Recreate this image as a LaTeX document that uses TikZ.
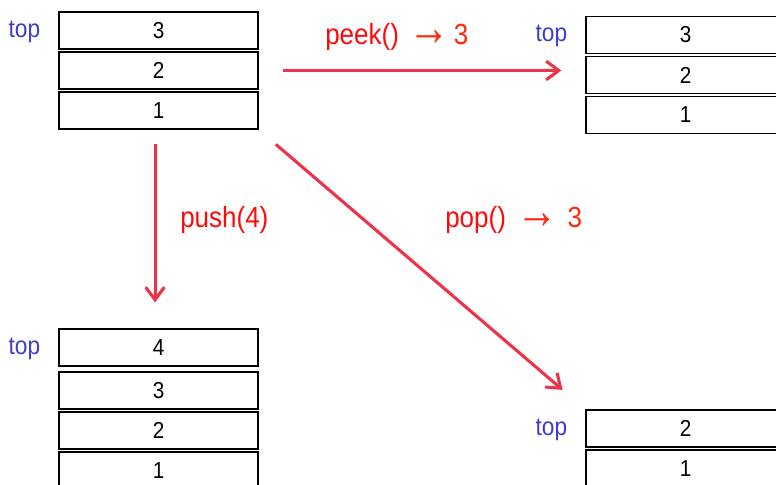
\documentclass[tikz,border=0pt]{standalone}
\usepackage{fontspec}
\setmainfont{Liberation Sans}
\usepackage{tikz}
\usetikzlibrary{positioning,arrows.meta}

\definecolor{arrowred}{RGB}{238,50,72}
\definecolor{opred}{RGB}{255,10,10}
\definecolor{resred}{RGB}{255,40,10}
\definecolor{topblue}{RGB}{60,60,205}
\newcommand{\arrowsym}{\raisebox{-0.5pt}{\scalebox{1.6}[1.8]{→}}}
\newcommand{\tallbox}[1]{\scalebox{1}[1.12]{#1}}

\begin{document}
\begin{tikzpicture}[x=0.75pt,y=-0.75pt,
  cell/.style={draw=black, line width=0.9pt, minimum width=149.25pt, minimum height=27.75pt, inner sep=0pt, font=\fontsize{15.5}{18}\selectfont},
  toplbl/.style={text=topblue, inner sep=0pt, font=\fontsize{17}{20}\selectfont},
  oplbl/.style={text=opred, inner sep=0pt, font=\fontsize{19.5}{23}\selectfont},
  oparrow/.style={draw=arrowred, line width=2.3pt, -{Straight Barb[length=9.5pt,width=14pt]}}
]
\useasboundingbox (0,0) rectangle (776,485);

%Shape: Stack before [id:start]
\node[cell] (s3) at (158.5,30.5) {\tallbox{3}};
\node[cell, below=1.35pt of s3] (s2) {\tallbox{2}};
\node[cell, below=1.35pt of s2] (s1) {\tallbox{1}};
\node[toplbl, left=13.5pt of s3, yshift=-0.75pt] (stop) {\tallbox{top}};

%Shape: Stack after peek [id:peek]
\node[cell] (t3) at (685.5,35) {\tallbox{3}};
\node[cell, below=1.35pt of t3] (t2) {\tallbox{2}};
\node[cell, below=1.35pt of t2] (t1) {\tallbox{1}};
\node[toplbl, left=13.5pt of t3, yshift=-0.75pt] (ttop) {\tallbox{top}};

%Shape: Stack after push [id:push]
\node[cell] (u4) at (158.5,347.5) {\tallbox{4}};
\node[cell, below=3.6pt of u4] (u3) {\tallbox{3}};
\node[cell, below=1.35pt of u3] (u2) {\tallbox{2}};
\node[cell, below=1.35pt of u2] (u1) {\tallbox{1}};
\node[toplbl, left=13.5pt of u4, yshift=-0.75pt] (utop) {\tallbox{top}};

%Shape: Stack after pop [id:pop]
\node[cell] (v2) at (685.5,428.5) {\tallbox{2}};
\node[cell, below=1.35pt of v2] (v1) {\tallbox{1}};
\node[toplbl, left=13.5pt of v2, yshift=-0.75pt] (vtop) {\tallbox{top}};

%Straight Lines [id:arrows]
\draw[oparrow, shorten <=18pt, shorten >=18pt] (s2.east) -- (s2.east -| t2.west);
\draw[oparrow, shorten <=11pt, shorten >=19.5pt] ([xshift=-2.6pt]s1.south) -- ([xshift=-2.6pt]u4.north);
\draw[oparrow, shorten <=17pt, shorten >=22.5pt] (s1.south east) -- (v2.north west);

% Text Node
\node[oplbl, anchor=base west] (peeklbl) at (325,45) {\tallbox{peek()\hspace{7pt}\textcolor{resred}{\arrowsym\hspace{3pt}3}}};
% Text Node
\node[oplbl, anchor=base west] (pushlbl) at (180,228) {\tallbox{push(4)}};
% Text Node
\node[oplbl, anchor=base west] (poplbl) at (445,228) {\tallbox{pop()\hspace{8pt}\textcolor{resred}{\arrowsym\hspace{7pt}3}}};
\end{tikzpicture}
\end{document}
